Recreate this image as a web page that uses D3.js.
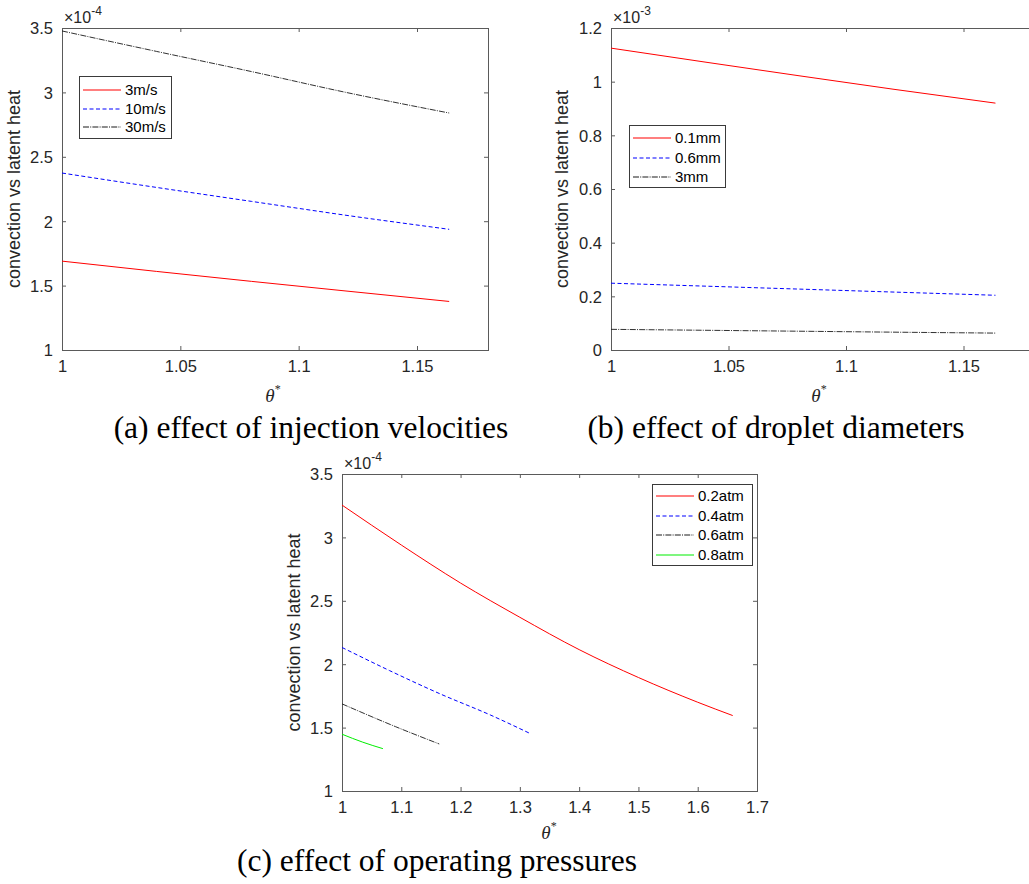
<!DOCTYPE html>
<html>
<head>
<meta charset="utf-8">
<script src="https://cdn.jsdelivr.net/npm/d3@7"></script>
<style>
  html, body { margin: 0; padding: 0; background: #fff; }
  svg { display: block; }
</style>
</head>
<body>
<svg id="fig" width="1029" height="884"></svg>
<script>
// ---- data: ratio of convective heat to latent heat vs θ* ----
// (a) injection velocities, ×10^-4
const thetaA = [1, 1.04, 1.08, 1.12, 1.1636];
const vel3  = [1.690, 1.610, 1.533, 1.458, 1.377];
const vel10 = [2.374, 2.262, 2.154, 2.046, 1.937];
const vel30 = [3.477, 3.318, 3.162, 3.000, 2.840];
const legendA = ["3m/s", "10m/s", "30m/s"];

// (b) droplet diameters, ×10^-3
const thetaB = [1, 1.04, 1.08, 1.12, 1.1636];
const dia01 = [1.125, 1.073, 1.022, 0.972, 0.920];
const dia06 = [0.249, 0.238, 0.227, 0.216, 0.204];
const dia3  = [0.077, 0.0735, 0.070, 0.0665, 0.063];
const legendB = ["0.1mm", "0.6mm", "3mm"];

// (c) operating pressures, ×10^-4
const thetaP02 = [1, 1.1, 1.2, 1.3, 1.4, 1.5, 1.6, 1.659];
const p02      = [3.255, 2.94, 2.64, 2.37, 2.115, 1.895, 1.70, 1.595];
const thetaP04 = [1, 1.08, 1.166, 1.25, 1.3175];
const p04      = [2.132, 1.95, 1.765, 1.60, 1.453];
const thetaP06 = [1, 1.09, 1.164];
const p06      = [1.687, 1.508, 1.371];
const thetaP08 = [1, 1.035, 1.069];
const p08      = [1.448, 1.385, 1.334];
const legendC = ["0.2atm", "0.4atm", "0.6atm", "0.8atm"];

// ticks and captions
const xTicksAB = [1, 1.05, 1.1, 1.15];
const xTicksC  = [1, 1.1, 1.2, 1.3, 1.4, 1.5, 1.6, 1.7];
const yTicksA  = [1, 1.5, 2, 2.5, 3, 3.5];
const yTicksB  = [0, 0.2, 0.4, 0.6, 0.8, 1, 1.2];
const yTicksC  = [1, 1.5, 2, 2.5, 3, 3.5];
const yTitle = "convection vs latent heat";
const captions = [
  "(a) effect of injection velocities",
  "(b) effect of droplet diameters",
  "(c) effect of operating pressures"
];

// ---- line styles (MATLAB-like) ----
const styles = {
  red:   { stroke: "#ff0000", dash: null, width: 1 },
  blue:  { stroke: "#0000ff", dash: "4,2.5", width: 1 },
  black: { stroke: "#1a1a1a", dash: "6,1.2,1,1.2", width: 0.9 },
  green: { stroke: "#00ee00", dash: null, width: 1 }
};

const svg = d3.select("#fig");
svg.append("rect").attr("width", 1029).attr("height", 884).attr("fill", "#fff");

const sansFont = "'Liberation Sans', Arial, Helvetica, sans-serif";
const serifFont = "'Liberation Serif', 'Times New Roman', Times, serif";
const axisColor = "#5a5a5a";
const textColor = "#262626";

function drawPanel(cfg) {
  const g = svg.append("g").attr("transform", `translate(${cfg.left},${cfg.top})`);
  const x = d3.scaleLinear().domain(cfg.xDomain).range([0, cfg.width]);
  const y = d3.scaleLinear().domain(cfg.yDomain).range([cfg.height, 0]);

  const fmt = d => String(d);

  // tick marks point inward on all four sides
  const axB = g.append("g").attr("transform", `translate(0,${cfg.height})`)
    .call(d3.axisBottom(x).tickValues(cfg.xTicks).tickFormat(fmt)
      .tickSizeInner(-4).tickSizeOuter(0).tickPadding(10));
  const axT = g.append("g")
    .call(d3.axisTop(x).tickValues(cfg.xTicks).tickFormat("")
      .tickSizeInner(-4).tickSizeOuter(0));
  const axL = g.append("g")
    .call(d3.axisLeft(y).tickValues(cfg.yTicks).tickFormat(fmt)
      .tickSizeInner(-4).tickSizeOuter(0).tickPadding(9));
  const axR = g.append("g").attr("transform", `translate(${cfg.width},0)`)
    .call(d3.axisRight(y).tickValues(cfg.yTicks).tickFormat("")
      .tickSizeInner(-4).tickSizeOuter(0));

  [axB, axT, axL, axR].forEach(a => {
    a.select(".domain").remove();
    a.selectAll(".tick line").attr("stroke", axisColor).attr("stroke-width", 1);
    a.selectAll(".tick text")
      .attr("fill", textColor)
      .style("font-family", sansFont)
      .style("font-size", "16.5px");
  });
  axL.selectAll(".tick text").attr("dy", "0.36em");

  // axes box
  g.append("rect")
    .attr("x", 0.5).attr("y", 0.5)
    .attr("width", cfg.width).attr("height", cfg.height)
    .attr("fill", "none").attr("stroke", axisColor).attr("stroke-width", 1);

  // series
  const line = d3.line().curve(d3.curveMonotoneX).x(d => x(d[0])).y(d => y(d[1]));
  cfg.series.forEach(s => {
    const st = styles[s.style];
    g.append("path")
      .datum(s.xs.map((v, i) => [v, s.ys[i]]))
      .attr("d", line)
      .attr("fill", "none")
      .attr("stroke", st.stroke)
      .attr("stroke-width", st.width)
      .attr("stroke-dasharray", st.dash);
  });

  // exponent label above the y axis
  const ex = g.append("text")
    .attr("x", 2).attr("y", -5)
    .attr("fill", textColor)
    .style("font-family", sansFont)
    .style("font-size", "16px");
  ex.append("tspan").text("\u00d710");
  ex.append("tspan").attr("dy", -8).style("font-size", "12px").text(cfg.exponent);

  // y title
  g.append("text")
    .attr("transform", `translate(${cfg.yTitleX},${cfg.height / 2}) rotate(-90)`)
    .attr("text-anchor", "middle")
    .attr("fill", textColor)
    .style("font-family", sansFont)
    .style("font-size", "18px")
    .text(yTitle);

  // x title θ*
  const xt = g.append("text")
    .attr("x", cfg.xTitleX).attr("y", cfg.height + cfg.xTitleDy)
    .attr("text-anchor", "middle")
    .attr("fill", textColor)
    .style("font-family", serifFont)
    .style("font-size", "19px");
  xt.append("tspan").style("font-style", "italic").text("\u03b8");
  xt.append("tspan").attr("dy", -9).style("font-size", "12px").text("*");

  // legend
  const lg = g.append("g").attr("transform", `translate(${cfg.legend.x},${cfg.legend.y})`);
  lg.append("rect")
    .attr("x", 0.5).attr("y", 0.5)
    .attr("width", cfg.legend.w).attr("height", cfg.legend.h)
    .attr("fill", "#fff").attr("stroke", "#3a3a3a").attr("stroke-width", 1);
  cfg.series.forEach((s, i) => {
    const st = styles[s.style];
    const yy = Math.round(cfg.legend.row0 + i * cfg.legend.step);
    lg.append("line")
      .attr("x1", 4).attr("x2", 42).attr("y1", yy).attr("y2", yy)
      .attr("stroke", st.stroke).attr("stroke-width", 1.2)
      .attr("stroke-dasharray", st.dash);
    lg.append("text")
      .attr("x", 46).attr("y", yy).attr("dy", "0.36em")
      .attr("fill", "#000")
      .style("font-family", sansFont)
      .style("font-size", "15px")
      .text(cfg.labels[i]);
  });

  // caption
  svg.append("text")
    .attr("x", cfg.captionX).attr("y", cfg.captionY)
    .attr("text-anchor", "middle")
    .attr("fill", "#000")
    .style("font-family", serifFont)
    .style("font-size", "31.5px")
    .text(cfg.caption);
}

drawPanel({
  left: 62, top: 28, width: 426, height: 322,
  xDomain: [1, 1.18], yDomain: [1, 3.5],
  xTicks: xTicksAB, yTicks: yTicksA, exponent: "-4",
  series: [
    { xs: thetaA, ys: vel3, style: "red" },
    { xs: thetaA, ys: vel10, style: "blue" },
    { xs: thetaA, ys: vel30, style: "black" }
  ],
  labels: legendA,
  legend: { x: 17, y: 48, w: 92, h: 62, row0: 14, step: 18.5 },
  yTitleX: -42, xTitleX: 211, xTitleDy: 52,
  caption: captions[0], captionX: 311, captionY: 438
});

drawPanel({
  left: 611, top: 28, width: 423, height: 322,
  xDomain: [1, 1.18], yDomain: [0, 1.2],
  xTicks: xTicksAB, yTicks: yTicksB, exponent: "-3",
  series: [
    { xs: thetaB, ys: dia01, style: "red" },
    { xs: thetaB, ys: dia06, style: "blue" },
    { xs: thetaB, ys: dia3, style: "black" }
  ],
  labels: legendB,
  legend: { x: 18, y: 97, w: 96, h: 62, row0: 13, step: 19.5 },
  yTitleX: -43, xTitleX: 208, xTitleDy: 52,
  caption: captions[1], captionX: 776, captionY: 438
});

drawPanel({
  left: 342, top: 474, width: 415, height: 317,
  xDomain: [1, 1.7], yDomain: [1, 3.5],
  xTicks: xTicksC, yTicks: yTicksC, exponent: "-4",
  series: [
    { xs: thetaP02, ys: p02, style: "red" },
    { xs: thetaP04, ys: p04, style: "blue" },
    { xs: thetaP06, ys: p06, style: "black" },
    { xs: thetaP08, ys: p08, style: "green" }
  ],
  labels: legendC,
  legend: { x: 310, y: 10, w: 100, h: 81, row0: 12, step: 19.7 },
  yTitleX: -42, xTitleX: 207, xTitleDy: 48,
  caption: captions[2], captionX: 437, captionY: 871
});
</script>
</body>
</html>
